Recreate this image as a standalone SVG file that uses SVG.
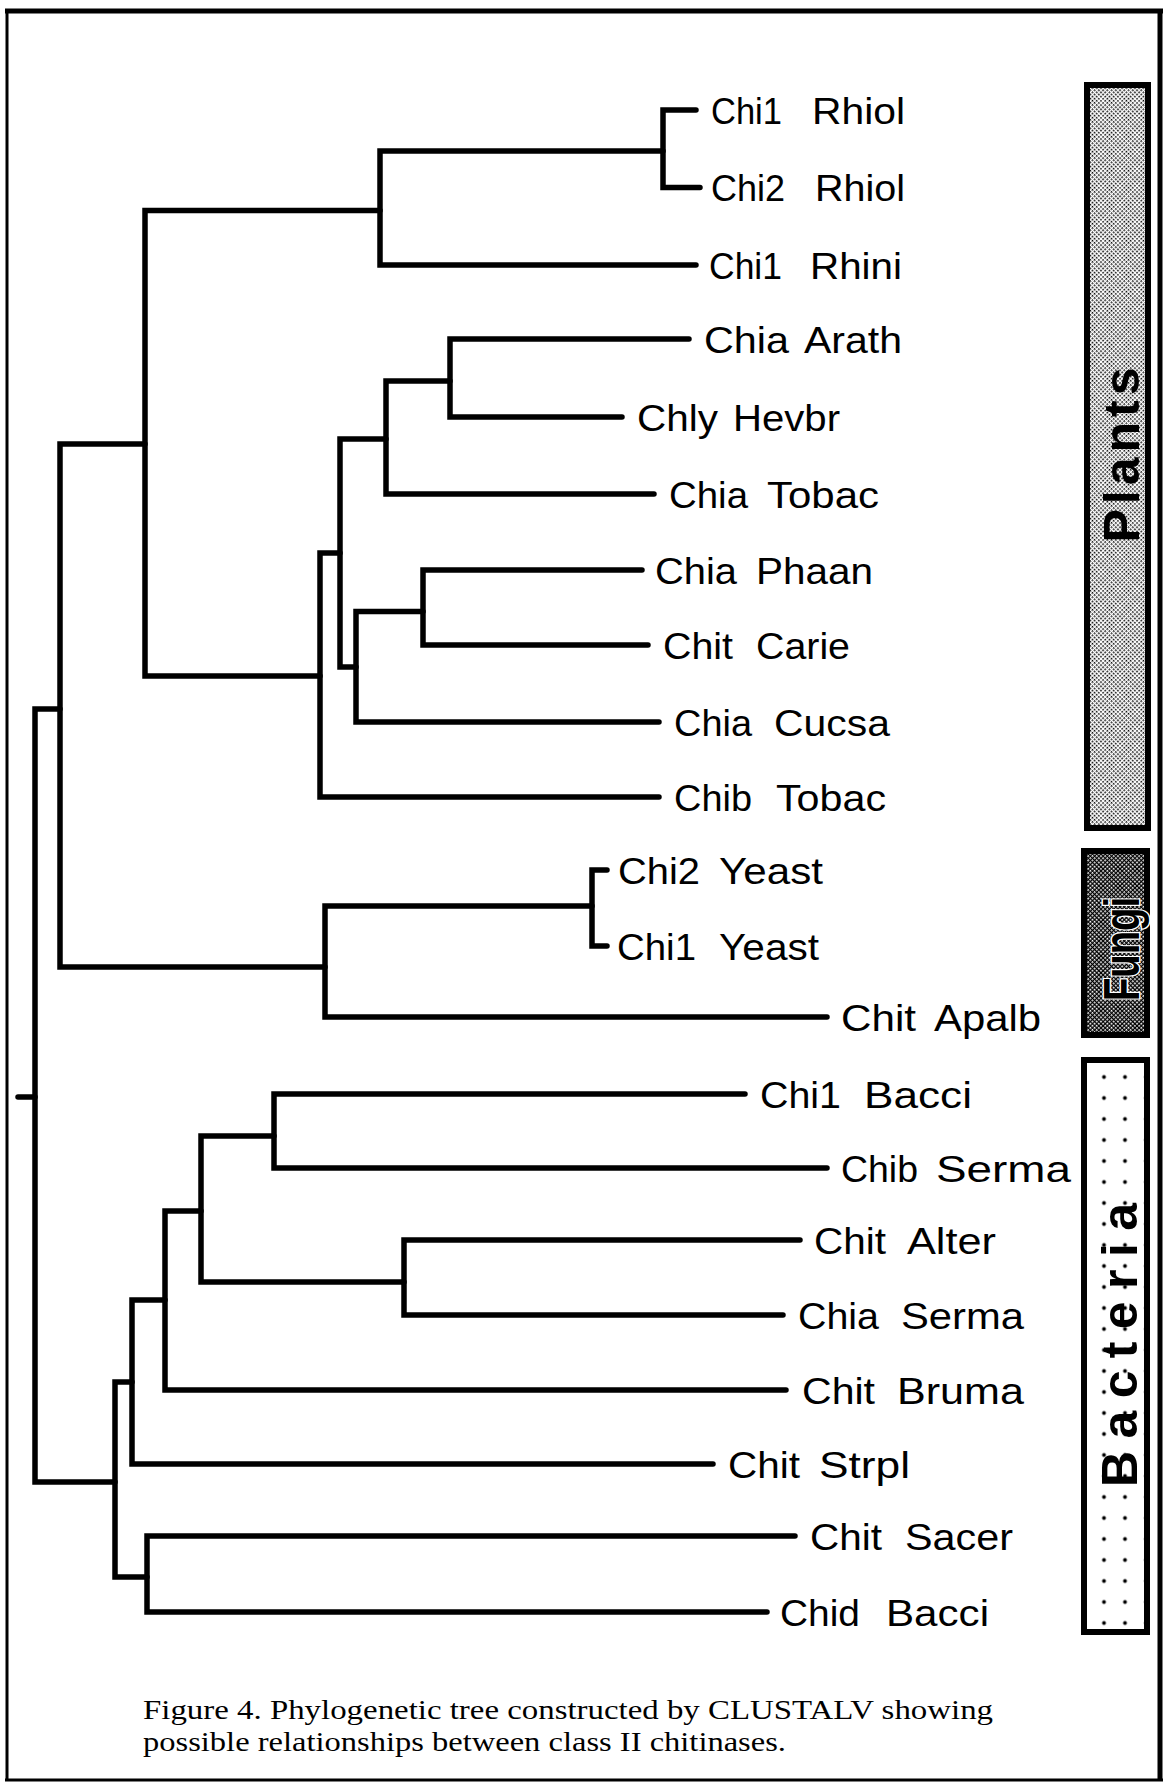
<svg xmlns="http://www.w3.org/2000/svg" width="1167" height="1783" viewBox="0 0 1167 1783">
  <style>
    .frame { stroke: #000; fill: none; }
    .branch { stroke: #000; stroke-width: 5.5; fill: none; stroke-linejoin: miter; stroke-linecap: round; }
    .leaf { font-family: "Liberation Sans", Arial, sans-serif; font-size: 37px; fill: #000; }
    .group-box { stroke: #000; stroke-width: 6; }
    .group-label { font-family: "Liberation Sans", Arial, sans-serif; font-weight: bold; font-size: 50px; fill: #000; text-anchor: middle; }
    .caption { font-family: "Liberation Serif", "Times New Roman", serif; font-size: 27.5px; fill: #000; }
  </style>
  <defs>
    <!-- light halftone for the plant group -->
    <pattern id="halftone-light" width="3" height="3" patternUnits="userSpaceOnUse" patternTransform="rotate(45)">
      <rect width="3" height="3" fill="#fff"/>
      <rect width="1.6" height="1.6" fill="#000"/>
    </pattern>
    <!-- dark halftone for the fungal group -->
    <pattern id="halftone-dark" width="3" height="3" patternUnits="userSpaceOnUse" patternTransform="rotate(45)">
      <rect width="3" height="3" fill="#000"/>
      <rect width="1.7" height="1.7" fill="#fff"/>
    </pattern>
    <!-- sparse dot grid for the bacterial group -->
    <pattern id="dot-grid" x="1093.5" y="1066.5" width="21" height="21" patternUnits="userSpaceOnUse">
      <rect width="21" height="21" fill="#fff"/>
      <circle cx="10.5" cy="10.5" r="1.9" fill="#000"/>
    </pattern>
  </defs>

  <rect width="1167" height="1783" fill="#fff"/>

  <!-- page frame -->
  <g id="frame" class="frame">
    <line x1="5" y1="11" x2="1163" y2="11" stroke-width="5"/>
    <line x1="7" y1="9" x2="7" y2="1781" stroke-width="3"/>
    <line x1="1160" y1="9" x2="1160" y2="1781" stroke-width="5"/>
    <line x1="5" y1="1780" x2="1163" y2="1780" stroke-width="3"/>
  </g>

  <!-- tree branches -->
  <g id="connectors" class="branch">
    <path d="M696,110 H663 V187.5 H700"/>
    <path d="M663,151 H380 V265 H696"/>
    <path d="M689,339 H450 V417 H622"/>
    <path d="M450,381 H386 V494 H654"/>
    <path d="M642,570 H423 V645 H648"/>
    <path d="M423,611.5 H356 V722 H659"/>
    <path d="M386,439 H340 V667 H356"/>
    <path d="M340,553 H320 V797 H659"/>
    <path d="M380,210.5 H145 V676 H320"/>
    <path d="M607,870 H592 V946 H607"/>
    <path d="M592,906 H325 V1017 H827"/>
    <path d="M145,444 H60 V967 H325"/>
    <path d="M745,1094 H274 V1168 H827"/>
    <path d="M800,1240 H404 V1315 H783"/>
    <path d="M274,1136 H201 V1282 H404"/>
    <path d="M201,1211 H165 V1390 H786"/>
    <path d="M165,1300 H132 V1464 H713"/>
    <path d="M795,1536 H147 V1612 H767"/>
    <path d="M132,1382 H115 V1577 H147"/>
    <path d="M60,709 H35 V1482 H115"/>
    <path d="M18,1097 H35"/>
  </g>

  <!-- leaf labels -->
  <g id="chi1-rhiol"><text class="leaf" y="123.5"><tspan x="711" textLength="71" lengthAdjust="spacingAndGlyphs">Chi1</tspan><tspan x="812" textLength="93" lengthAdjust="spacingAndGlyphs">Rhiol</tspan></text></g>
  <g id="chi2-rhiol"><text class="leaf" y="201"><tspan x="711" textLength="74" lengthAdjust="spacingAndGlyphs">Chi2</tspan><tspan x="815" textLength="90" lengthAdjust="spacingAndGlyphs">Rhiol</tspan></text></g>
  <g id="chi1-rhini"><text class="leaf" y="278.5"><tspan x="709" textLength="73" lengthAdjust="spacingAndGlyphs">Chi1</tspan><tspan x="810" textLength="92" lengthAdjust="spacingAndGlyphs">Rhini</tspan></text></g>
  <g id="chia-arath"><text class="leaf" y="352.5"><tspan x="704" textLength="85" lengthAdjust="spacingAndGlyphs">Chia</tspan><tspan x="804" textLength="98" lengthAdjust="spacingAndGlyphs">Arath</tspan></text></g>
  <g id="chly-hevbr"><text class="leaf" y="430.5"><tspan x="637" textLength="81" lengthAdjust="spacingAndGlyphs">Chly</tspan><tspan x="733" textLength="107" lengthAdjust="spacingAndGlyphs">Hevbr</tspan></text></g>
  <g id="chia-tobac"><text class="leaf" y="507.5"><tspan x="669" textLength="79" lengthAdjust="spacingAndGlyphs">Chia</tspan><tspan x="767" textLength="112" lengthAdjust="spacingAndGlyphs">Tobac</tspan></text></g>
  <g id="chia-phaan"><text class="leaf" y="583.5"><tspan x="655" textLength="82" lengthAdjust="spacingAndGlyphs">Chia</tspan><tspan x="756" textLength="117" lengthAdjust="spacingAndGlyphs">Phaan</tspan></text></g>
  <g id="chit-carie"><text class="leaf" y="658.5"><tspan x="663" textLength="70" lengthAdjust="spacingAndGlyphs">Chit</tspan><tspan x="756" textLength="94" lengthAdjust="spacingAndGlyphs">Carie</tspan></text></g>
  <g id="chia-cucsa"><text class="leaf" y="735.5"><tspan x="674" textLength="78" lengthAdjust="spacingAndGlyphs">Chia</tspan><tspan x="774" textLength="116" lengthAdjust="spacingAndGlyphs">Cucsa</tspan></text></g>
  <g id="chib-tobac"><text class="leaf" y="810.5"><tspan x="674" textLength="78" lengthAdjust="spacingAndGlyphs">Chib</tspan><tspan x="776" textLength="110" lengthAdjust="spacingAndGlyphs">Tobac</tspan></text></g>
  <g id="chi2-yeast"><text class="leaf" y="883.5"><tspan x="618" textLength="82" lengthAdjust="spacingAndGlyphs">Chi2</tspan><tspan x="719" textLength="104" lengthAdjust="spacingAndGlyphs">Yeast</tspan></text></g>
  <g id="chi1-yeast"><text class="leaf" y="959.5"><tspan x="617" textLength="79" lengthAdjust="spacingAndGlyphs">Chi1</tspan><tspan x="719" textLength="100" lengthAdjust="spacingAndGlyphs">Yeast</tspan></text></g>
  <g id="chit-apalb"><text class="leaf" y="1030.5"><tspan x="841" textLength="75" lengthAdjust="spacingAndGlyphs">Chit</tspan><tspan x="934" textLength="107" lengthAdjust="spacingAndGlyphs">Apalb</tspan></text></g>
  <g id="chi1-bacci"><text class="leaf" y="1107.5"><tspan x="760" textLength="81" lengthAdjust="spacingAndGlyphs">Chi1</tspan><tspan x="864" textLength="108" lengthAdjust="spacingAndGlyphs">Bacci</tspan></text></g>
  <g id="chib-serma"><text class="leaf" y="1181.5"><tspan x="841" textLength="77" lengthAdjust="spacingAndGlyphs">Chib</tspan><tspan x="936" textLength="135" lengthAdjust="spacingAndGlyphs">Serma</tspan></text></g>
  <g id="chit-alter"><text class="leaf" y="1253.5"><tspan x="814" textLength="72" lengthAdjust="spacingAndGlyphs">Chit</tspan><tspan x="907" textLength="89" lengthAdjust="spacingAndGlyphs">Alter</tspan></text></g>
  <g id="chia-serma"><text class="leaf" y="1328.5"><tspan x="798" textLength="81" lengthAdjust="spacingAndGlyphs">Chia</tspan><tspan x="901" textLength="123" lengthAdjust="spacingAndGlyphs">Serma</tspan></text></g>
  <g id="chit-bruma"><text class="leaf" y="1403.5"><tspan x="802" textLength="73" lengthAdjust="spacingAndGlyphs">Chit</tspan><tspan x="897" textLength="127" lengthAdjust="spacingAndGlyphs">Bruma</tspan></text></g>
  <g id="chit-strpl"><text class="leaf" y="1477.5"><tspan x="728" textLength="72" lengthAdjust="spacingAndGlyphs">Chit</tspan><tspan x="819" textLength="91" lengthAdjust="spacingAndGlyphs">Strpl</tspan></text></g>
  <g id="chit-sacer"><text class="leaf" y="1549.5"><tspan x="810" textLength="72" lengthAdjust="spacingAndGlyphs">Chit</tspan><tspan x="905" textLength="108" lengthAdjust="spacingAndGlyphs">Sacer</tspan></text></g>
  <g id="chid-bacci"><text class="leaf" y="1625.5"><tspan x="780" textLength="80" lengthAdjust="spacingAndGlyphs">Chid</tspan><tspan x="886" textLength="103" lengthAdjust="spacingAndGlyphs">Bacci</tspan></text></g>

  <!-- kingdom brackets -->
  <g id="group-plants">
    <rect class="group-box" x="1087" y="85" width="61" height="743" fill="url(#halftone-light)"/>
    <text class="group-label" transform="translate(1139,455) rotate(-90)" textLength="175" lengthAdjust="spacing">Plants</text>
  </g>
  <g id="group-fungi">
    <rect class="group-box" x="1084" y="851" width="63" height="184" fill="url(#halftone-dark)"/>
    <text class="group-label" transform="translate(1139,949) rotate(-90)" textLength="104" lengthAdjust="spacingAndGlyphs" stroke="#fff" stroke-width="3" paint-order="stroke">Fungi</text>
  </g>
  <g id="group-bacteria">
    <rect class="group-box" x="1084" y="1060" width="63" height="572" stroke-width="5" fill="url(#dot-grid)"/>
    <text class="group-label" transform="translate(1137,1345) rotate(-90)" textLength="284" lengthAdjust="spacing">Bacteria</text>
  </g>

  <!-- figure caption -->
  <g id="caption">
    <text class="caption" x="143" y="1719" textLength="850" lengthAdjust="spacingAndGlyphs">Figure 4. Phylogenetic tree constructed by CLUSTALV showing</text>
    <text class="caption" x="143" y="1751" textLength="643" lengthAdjust="spacingAndGlyphs">possible relationships between class II chitinases.</text>
  </g>
</svg>
